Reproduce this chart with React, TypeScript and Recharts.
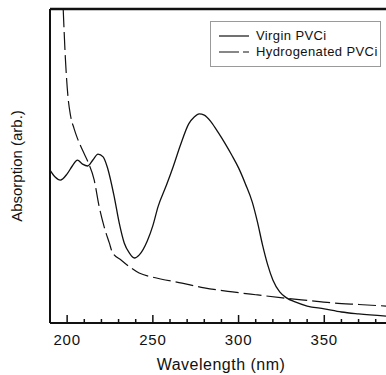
import React from 'react';
import { LineChart, Line, XAxis, YAxis } from 'recharts';

// wavelength (nm) / absorption (arb.)
const virginNm = [190, 193, 196, 200, 203, 206, 209, 212, 215, 218, 221, 223.4, 227.5, 230.4, 233.3, 236.3, 239.2, 242.1, 246.8, 250, 253, 258, 262, 266, 271, 274, 277, 280, 284, 288, 292, 296, 300, 304, 308, 311, 314, 317, 320, 324, 328, 333, 340, 350, 360, 370, 386];
const virginAbs = [0.487, 0.465, 0.455, 0.475, 0.5, 0.519, 0.506, 0.5, 0.519, 0.538, 0.529, 0.497, 0.401, 0.318, 0.255, 0.223, 0.207, 0.217, 0.262, 0.31, 0.37, 0.44, 0.5, 0.565, 0.635, 0.655, 0.666, 0.662, 0.64, 0.608, 0.573, 0.535, 0.494, 0.443, 0.385, 0.322, 0.248, 0.185, 0.137, 0.099, 0.08, 0.067, 0.054, 0.045, 0.035, 0.029, 0.022];

// curve enters the frame at the top edge (~197.7 nm)
const hydroNm = [197.7, 199, 200.5, 202, 204, 206, 209, 212, 215.8, 218.7, 221.6, 224.6, 226.3, 231.6, 237.4, 242, 250, 267, 280, 296.5, 310, 325.7, 340, 355, 370, 386];
const hydroAbs = [1.0, 0.84, 0.72, 0.66, 0.62, 0.588, 0.55, 0.515, 0.455, 0.37, 0.306, 0.255, 0.226, 0.2, 0.175, 0.159, 0.146, 0.127, 0.112, 0.099, 0.09, 0.08, 0.072, 0.064, 0.059, 0.054];

// top edge of the plot frame
const frameNm = [190, 386];
const frameAbs = [1, 1];

const xTicks = [200, 210, 220, 230, 240, 250, 260, 270, 280, 290, 300, 310, 320, 330, 340, 350, 360, 370, 380];
const majorTicks = [200, 250, 300, 350];

const virginData = virginNm.map((nm, i) => ({ nm, abs: virginAbs[i] }));
const hydroData = hydroNm.map((nm, i) => ({ nm, abs: hydroAbs[i] }));
const frameData = frameNm.map((nm, i) => ({ nm, abs: frameAbs[i] }));

const FONT = 'Arial, "Liberation Sans", Helvetica, sans-serif';

const InwardTick = ({ x, y, payload }: any) => {
  const major = majorTicks.includes(payload.value);
  return (
    <g>
      <line x1={x} x2={x} y1={y} y2={y - (major ? 8 : 4)} stroke="#111" strokeWidth={1.5} />
      {major && (
        <text x={x} y={y + 22} textAnchor="middle" fontSize={15} letterSpacing={0.8} fill="#111" fontFamily={FONT}>
          {payload.value}
        </text>
      )}
    </g>
  );
};

const LegendBox = () => (
  <div
    style={{
      position: 'absolute',
      left: 210,
      top: 21,
      width: 171,
      height: 46,
      boxSizing: 'border-box',
      border: '1px solid #9a9a9a',
      padding: '6px 0 0 7px',
      fontFamily: FONT,
      fontSize: 13,
      color: '#111',
      background: '#fff',
      lineHeight: '16px',
    }}
  >
    <div style={{ display: 'flex', alignItems: 'center' }}>
      <svg width={38} height={10}>
        <line x1={1} x2={31} y1={5} y2={5} stroke="#111" strokeWidth={1.2} />
      </svg>
      <span style={{ letterSpacing: 0.4 }}>Virgin PVCi</span>
    </div>
    <div style={{ display: 'flex', alignItems: 'center' }}>
      <svg width={38} height={10}>
        <line x1={1} x2={31} y1={5} y2={5} stroke="#111" strokeWidth={1.2} strokeDasharray="20 4" />
      </svg>
      <span style={{ letterSpacing: 0.4 }}>Hydrogenated PVCi</span>
    </div>
  </div>
);

export default function App() {
  return (
    <div style={{ position: 'absolute', left: 0, top: 0, width: 386, height: 375, background: '#fff' }}>
      <LineChart width={386} height={375} margin={{ top: 9, right: 0, bottom: 0, left: 0 }}>
        <XAxis
          type="number"
          dataKey="nm"
          domain={[190, 386]}
          ticks={xTicks}
          interval={0}
          height={52}
          tickSize={0}
          tickMargin={0}
          tickLine={false}
          tick={<InwardTick />}
          axisLine={{ stroke: '#111', strokeWidth: 2 }}
          label={({ viewBox }: any) => (
            <text
              x={viewBox.x + viewBox.width / 2 + 3}
              y={viewBox.y + 47}
              textAnchor="middle"
              fontSize={16}
              letterSpacing={0.5}
              fill="#111"
              fontFamily={FONT}
            >
              Wavelength (nm)
            </text>
          )}
        />
        <YAxis
          type="number"
          dataKey="abs"
          domain={[0, 1]}
          width={50}
          tick={false}
          tickLine={false}
          axisLine={{ stroke: '#111', strokeWidth: 2 }}
          label={({ viewBox }: any) => {
            const cx = viewBox.x + 22;
            const cy = viewBox.y + viewBox.height / 2;
            return (
              <text
                x={cx}
                y={cy}
                transform={`rotate(-90 ${cx} ${cy})`}
                textAnchor="middle"
                fontSize={15}
                fill="#111"
                fontFamily={FONT}
              >
                Absorption (arb.)
              </text>
            );
          }}
        />
        <Line
          data={frameData}
          dataKey="abs"
          type="linear"
          stroke="#111"
          strokeWidth={2.5}
          dot={false}
          legendType="none"
          isAnimationActive={false}
        />
        <Line
          data={virginData}
          dataKey="abs"
          type="monotone"
          stroke="#111"
          strokeWidth={1.3}
          dot={false}
          isAnimationActive={false}
        />
        <Line
          data={hydroData}
          dataKey="abs"
          type="monotone"
          stroke="#111"
          strokeWidth={1.2}
          strokeDasharray="18 5"
          dot={false}
          isAnimationActive={false}
        />
      </LineChart>
      <LegendBox />
    </div>
  );
}
